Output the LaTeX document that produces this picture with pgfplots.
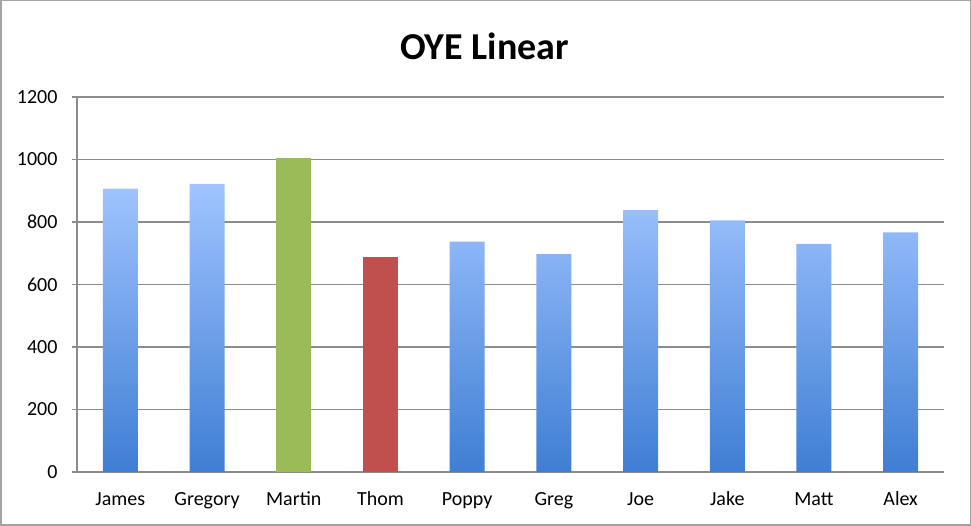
\documentclass[border=0pt]{standalone}
\usepackage{pgfplots}
\pgfplotsset{compat=1.18}
\usepackage{fontspec}
\setmainfont{Carlito}
\definecolor{gridgray}{HTML}{8C8C8C}
\definecolor{barlight}{HTML}{A0C4FF}
\definecolor{bardark}{HTML}{3F7ED3}
\definecolor{mgreen}{HTML}{9BBB59}
\definecolor{tred}{HTML}{C0504D}
\begin{document}
\begin{tikzpicture}[x=1pt,y=1pt]
\useasboundingbox (0,0) rectangle (971,526);
\draw[draw=gridgray!80, line width=1.5pt] (0.75,0.75) rectangle (970.25,525.25);
\begin{axis}[
  at={(77pt,54pt)}, anchor=south west,
  scale only axis, width=867pt, height=375pt,
  xmin=-0.5, xmax=9.5, ymin=0, ymax=1200,
  axis x line*=bottom, axis y line*=left,
  axis line style={draw=gridgray, line width=1.2pt, -},
  ytick={0,200,...,1200},
  ymajorgrids, grid style={draw=gridgray, line width=1.2pt},
  xtick={0,...,9},
  xticklabels={James,Gregory,Martin,Thom,Poppy,Greg,Joe,Jake,Matt,Alex},
  minor xtick={-0.5,0.5,...,9.5},
  tick align=outside,
  major tick length=5pt, minor tick length=6pt,
  xtick style={draw=none},
  minor tick style={draw=gridgray, line width=1.2pt},
  ytick style={draw=gridgray, line width=1.2pt},
  /pgf/number format/assume math mode=true,
  /pgf/number format/1000 sep={},
  ticklabel style={font=\fontsize{20}{22}\selectfont, text=black},
  xticklabel style={yshift=-11pt, text height=14pt, text depth=4pt},
  yticklabel style={xshift=-11pt},
  title={OYE Linear},
  title style={font=\bfseries\fontsize{38}{42}\selectfont, at={(0.5,1)}, yshift=28pt, xshift=-26pt, anchor=south},
  ybar, bar width=35pt, bar shift=0pt,
  clip=false,
]
\addplot[draw=none, top color=barlight, bottom color=bardark] coordinates {
 (0,907) (1,922) (4,737) (5,697) (6,838) (7,805) (8,730) (9,767)};
\addplot[draw=none, fill=mgreen] coordinates {(2,1004)};
\addplot[draw=none, fill=tred] coordinates {(3,688)};
\end{axis}
\end{tikzpicture}
\end{document}
